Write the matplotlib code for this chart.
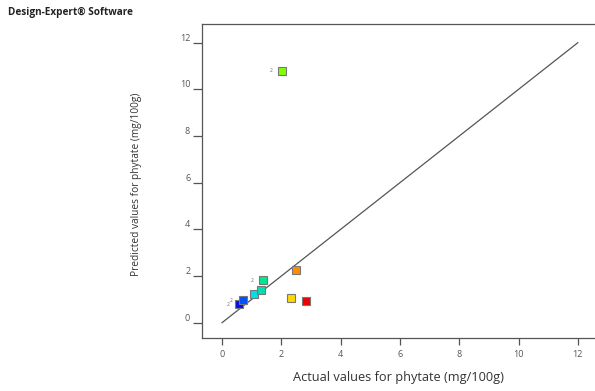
import matplotlib.pyplot as plt

# Predicted vs actual
actual = [0.58, 0.70, 1.09, 1.31, 1.38, 2.04, 2.33, 2.51, 2.82]
predicted = [0.79, 0.97, 1.23, 1.40, 1.83, 10.79, 1.07, 2.26, 0.92]
colours = ["#0010e8", "#0050ff", "#00e0e8", "#00e0b0", "#00e890",
           "#80ff00", "#ffd800", "#ff8c00", "#f00000"]
point_tags = ["2", "2", "", "", "2", "2", "", "", ""]
ticks = [0, 2, 4, 6, 8, 10, 12]

plt.rcParams["font.family"] = ["Open Sans", "DejaVu Sans"]

fig = plt.figure(figsize=(5.95, 3.91), dpi=100)
ax = fig.add_axes([0.3395, 0.1363, 0.6605, 0.8016])

# y = x reference line
ax.plot([0, 12], [0, 12], color="#555555", lw=0.9, zorder=1)

for x, y, c, tag in zip(actual, predicted, colours, point_tags):
    ax.plot(x, y, marker="s", ms=6, mfc=c, mec="#777777", mew=0.8,
            ls="none", zorder=3)
    if tag:
        ax.annotate(tag, (x, y), xytext=(-8, 0), textcoords="offset points",
                    fontsize=3.5, color="#666666", ha="center", va="center")

ax.set_xlim(-0.675, 12.58)
ax.set_ylim(-0.643, 12.79)
ax.set_xticks(ticks)
ax.set_yticks(ticks)
ax.tick_params(axis="x", direction="out", length=5, width=0.9,
               colors="#555555", labelsize=6.5, pad=4)
ax.tick_params(axis="y", direction="out", length=6.5, width=0.9,
               colors="#555555", labelsize=6.5, pad=2)
for lab in ax.get_yticklabels():
    lab.set_va("bottom")

ax.spines["right"].set_visible(False)
for s in ["left", "top", "bottom"]:
    ax.spines[s].set_color("#555555")
    ax.spines[s].set_linewidth(0.9)

fig.text(399 / 595, 1 - 377 / 391, "Actual values for phytate (mg/100g)",
         ha="center", va="center", fontsize=9.2, color="#333333")
fig.text(137 / 595, 1 - 184 / 391, "Predicted values for phytate (mg/100g)",
         ha="center", va="center", rotation=90, fontsize=7.3, color="#333333")
fig.text(8 / 595, 1 - 12 / 391, "Design-Expert\u00ae Software",
         ha="left", va="center", fontsize=7.2, fontweight="bold",
         color="#222222")

fig.savefig("out.png", dpi=100)
